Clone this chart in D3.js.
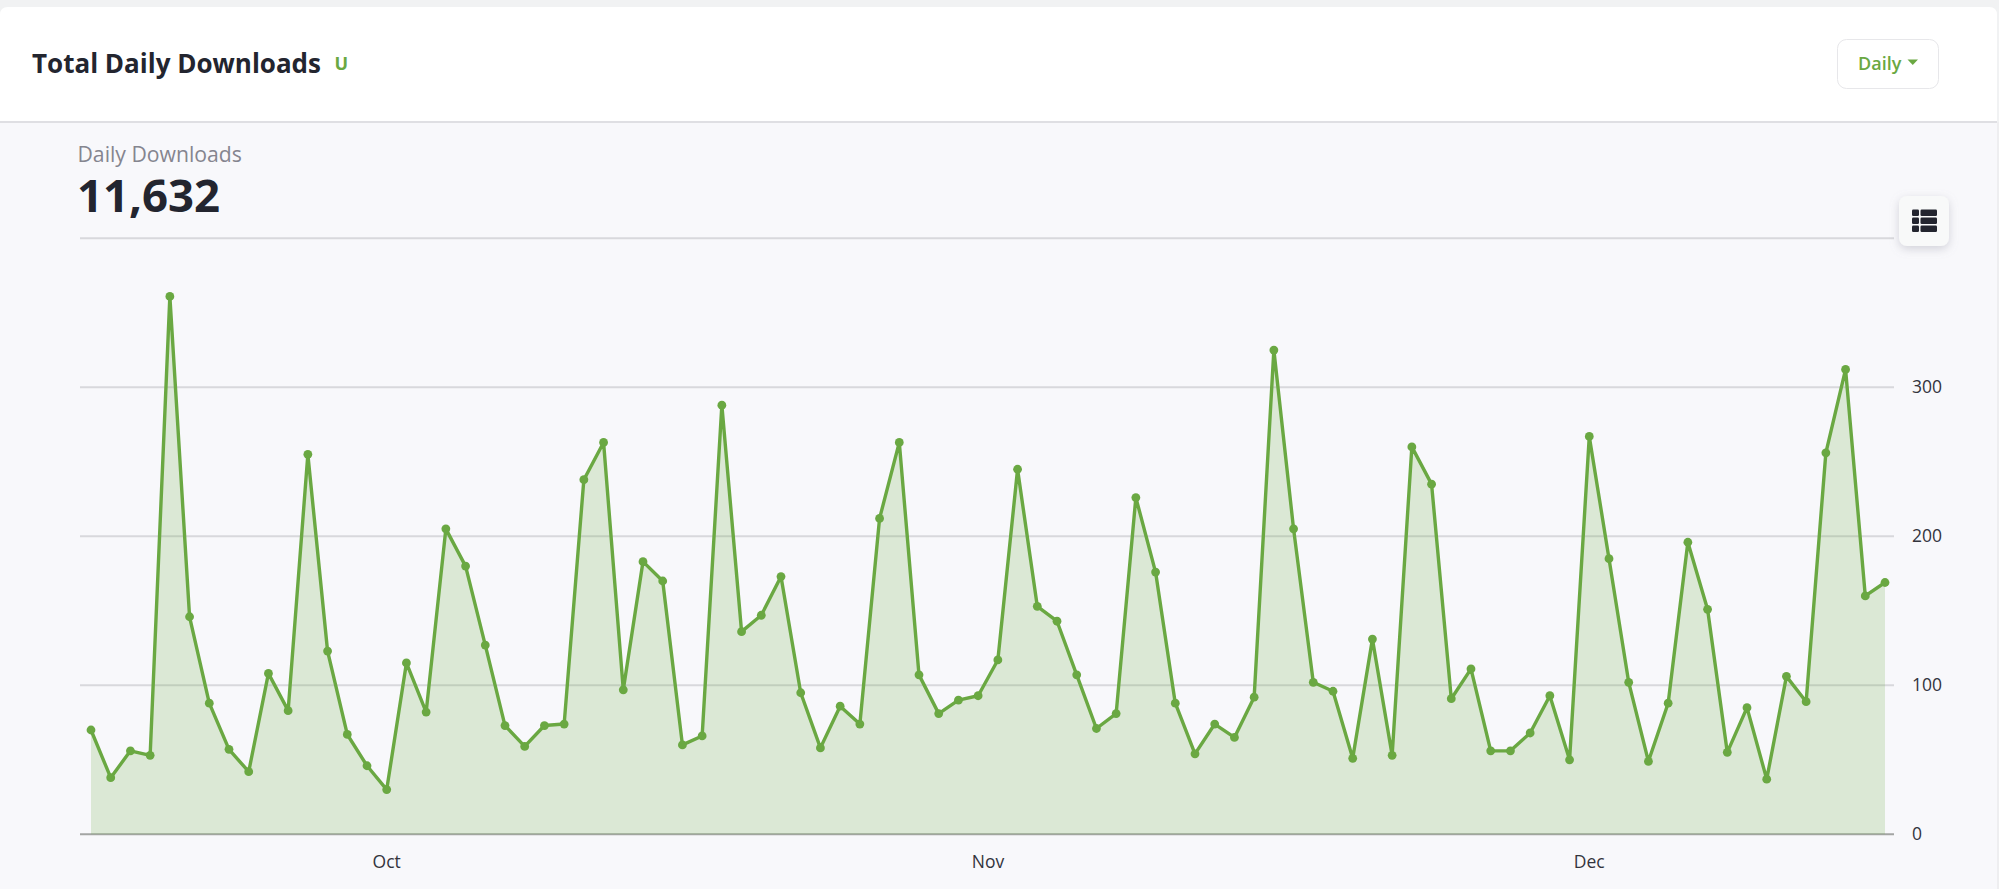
<!DOCTYPE html>
<html><head><meta charset="utf-8">
<script src="https://cdn.jsdelivr.net/npm/d3@7"></script>
<style>
html,body{margin:0;padding:0;background:#f1f2f3;overflow:hidden}
svg{display:block}
text{font-family:"Open Sans",sans-serif}
</style></head><body>
<div id="chart"></div>
<script>
const startDate = "2021-09-16";
const endDate = "2021-12-16";
const downloads = [70,38,56,53,361,146,88,57,42,108,83,255,123,67,46,30,115,82,205,180,127,73,59,73,
74,238,263,97,183,170,60,66,288,136,147,173,95,58,86,74,212,263,107,81,90,93,
117,245,153,143,107,71,81,226,176,88,54,74,65,92,325,205,102,96,51,131,53,260,235,
91,111,56,56,68,93,50,267,185,102,49,88,196,151,55,85,37,106,89,256,312,160,169];
const yTicks = [0,100,200,300,400];
const yLabels = ["0","100","200","300",""];
const xTickDates = ["2021-10-01T00:00","2021-10-31T12:00","2021-12-01T00:00"];
const xLabels = ["Oct","Nov","Dec"];
const titleText = "Total Daily Downloads";
const badgeText = "U";
const buttonText = "Daily";
const metricLabel = "Daily Downloads";
const metricValue = "11,632";

const W = 1999, H = 889;
const GREEN = "#6aa842", DARK = "#23252f";
const svg = d3.select("#chart").append("svg").attr("width",W).attr("height",H);

// page chrome
svg.append("rect").attr("x",0).attr("y",122).attr("width",1997).attr("height",H-122).attr("fill","#f8f8fb");
svg.append("rect").attr("x",1997).attr("y",122).attr("width",2).attr("height",H-122).attr("fill","#eeeef0");
svg.append("path").attr("d","M0,122V15Q0,7 8,7H1989Q1997,7 1997,15V122Z").attr("fill","#fff");
svg.append("rect").attr("x",0).attr("y",121).attr("width",1997).attr("height",2).attr("fill","#dfdfe3");

svg.append("text").attr("x",32).attr("y",73).attr("font-size",26).attr("font-weight",700).attr("fill",DARK).text(titleText);
svg.append("text").attr("x",334.5).attr("y",70).attr("font-size",18).attr("font-weight",700).attr("fill",GREEN).text(badgeText);

svg.append("rect").attr("x",1837.5).attr("y",39.5).attr("width",101).attr("height",49).attr("rx",9)
  .attr("fill","#fff").attr("stroke","#e7e7ea").attr("stroke-width",1);
svg.append("text").attr("x",1858).attr("y",70).attr("font-size",18).attr("font-weight",600).attr("fill",GREEN).text(buttonText);
svg.append("path").attr("d","M1907.5,59.5h10.5l-5.25,5.5z").attr("fill",GREEN);

svg.append("text").attr("x",77.5).attr("y",162).attr("font-size",21.2).attr("fill","#85858f").text(metricLabel);
svg.append("text").attr("x",77).attr("y",212).attr("font-size",45.5).attr("font-weight",700).attr("fill",DARK).text(metricValue);

// scales
const parse = d3.utcParse("%Y-%m-%d");
const parseTick = d3.utcParse("%Y-%m-%dT%H:%M");
const dates = downloads.map((_,i)=>d3.utcDay.offset(parse(startDate),i));
const x = d3.scaleUtc().domain([parse(startDate),parse(endDate)]).range([91,1885]);
const y = d3.scaleLinear().domain([0,400]).range([834.3,238.3]);

// y grid and labels
const yAxis = d3.axisRight(y).tickValues(yTicks).tickSize(1814).offset(0)
  .tickPadding(18).tickFormat((d,i)=>yLabels[i]);
const gy = svg.append("g").attr("transform","translate(80,0)").call(yAxis);
gy.select(".domain").remove();
gy.selectAll(".tick line").attr("stroke",d=>d===0?"#a3a5a3":"#d8d8dc").attr("stroke-width",2);
gy.selectAll(".tick text").attr("font-size",17.5).attr("fill","#33343d").attr("font-family","'Open Sans',sans-serif");

// x axis
const xAxis = d3.axisBottom(x).tickValues(xTickDates.map(parseTick)).tickSize(0).tickPadding(21).offset(0)
  .tickFormat((d,i)=>xLabels[i]);
const gx = svg.append("g").attr("transform","translate(0,834.3)").call(xAxis);
gx.select(".domain").remove();
gx.selectAll(".tick text").attr("font-size",17.5).attr("fill","#33343d").attr("font-family","'Open Sans',sans-serif");

// marks
svg.append("path").datum(downloads)
  .attr("d",d3.area().x((d,i)=>x(dates[i])).y0(y(0)).y1(d=>y(d)))
  .attr("fill",GREEN).attr("fill-opacity",0.2);
svg.append("path").datum(downloads)
  .attr("d",d3.line().x((d,i)=>x(dates[i])).y(d=>y(d)))
  .attr("fill","none").attr("stroke",GREEN).attr("stroke-width",3.4).attr("stroke-linejoin","round");
svg.append("g").selectAll("circle").data(downloads).join("circle")
  .attr("cx",(d,i)=>x(dates[i])).attr("cy",d=>y(d)).attr("r",4.4).attr("fill",GREEN);

// table button
const defs = svg.append("defs");
const f = defs.append("filter").attr("id","sh").attr("x","-40%").attr("y","-40%").attr("width","180%").attr("height","180%");
f.append("feDropShadow").attr("dx",0).attr("dy",3).attr("stdDeviation",5).attr("flood-color","#8a8a9a").attr("flood-opacity",0.35);
svg.append("rect").attr("x",1899).attr("y",196).attr("width",50).attr("height",50).attr("rx",8)
  .attr("fill","#f8f9f9").attr("filter","url(#sh)");
const iconRows = [209.5,217.5,225.5], iconCols = [[1912,7],[1920.5,16.5]];
const icon = svg.append("g").attr("fill",DARK);
iconRows.forEach(ry=>iconCols.forEach(c=>{
  icon.append("rect").attr("x",c[0]).attr("y",ry).attr("width",c[1]).attr("height",6.5).attr("rx",1.2);
}));
</script>
</body></html>
